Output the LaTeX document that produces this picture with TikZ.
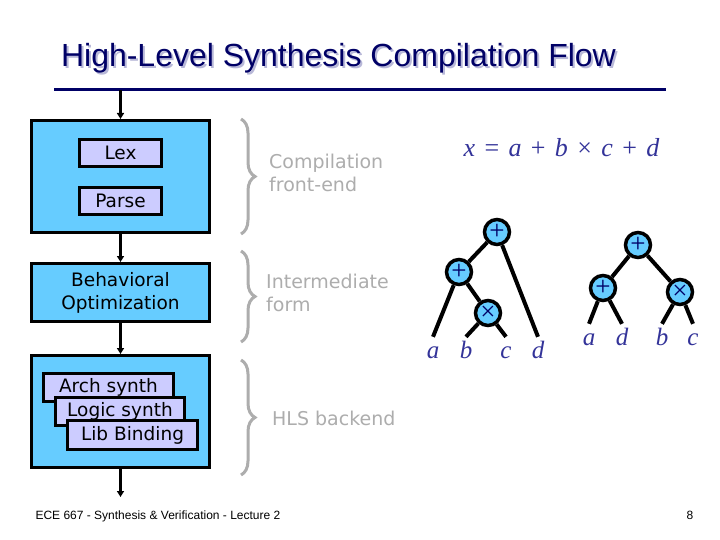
\documentclass[tikz,border=0pt]{standalone}
\usepackage{fontspec}
\setmainfont{Liberation Sans}
\newfontfamily\boxfont{DejaVu Sans}
\newfontfamily\eqfont{Liberation Serif}
\usepackage{tikz}
\usetikzlibrary{positioning,arrows.meta,decorations.pathreplacing}
\definecolor{navy}{HTML}{000066}
\definecolor{shade}{HTML}{B8B8D8}
\definecolor{stagebg}{HTML}{66CCFF}
\definecolor{passbg}{HTML}{CCCCFF}
\definecolor{notegray}{HTML}{ADADAD}
\definecolor{eqink}{HTML}{333399}
\newcommand{\gap}{\hspace{0.36em}}

\begin{document}
\begin{tikzpicture}[x=1pt,y=-1pt,
  stage/.style={draw=black,line width=3pt,fill=stagebg,minimum width=178pt,align=center,font=\boxfont\fontsize{18.5}{23}\selectfont},
  pass/.style={draw=black,line width=3pt,fill=passbg,minimum width=82pt,minimum height=27pt,inner sep=0pt,font=\boxfont\fontsize{18.5}{22}\selectfont},
  flow/.style={-{Triangle[length=6pt,width=7pt]},line width=3pt},
  brc/.style={decorate,decoration={brace,amplitude=14pt},draw=notegray,line width=3pt},
  remark/.style={inner sep=0pt,align=left,text=notegray,font=\boxfont\fontsize{19}{23}\selectfont},
  op/.style={circle,draw=black,line width=3.5pt,fill=stagebg,minimum size=25pt,inner sep=0pt,text=navy,font=\eqfont\fontsize{27}{27}\selectfont},
  leaf/.style={inner sep=0pt,minimum height=32pt,text height=11pt,text depth=0pt,text=eqink,font=\eqfont\itshape\fontsize{25}{25}\selectfont},
  edge/.style={line width=4pt}]
  \fill[white] (0,0) rectangle (720,540);
  \useasboundingbox (0,0) rectangle (720,540);
  \node[anchor=base,text=shade,font=\fontsize{32}{32}\selectfont] (titleshade) at (340.5,69) {High-Level Synthesis Compilation Flow};
  \node[anchor=base,text=navy,font=\fontsize{32}{32}\selectfont] (title) at (338.5,67) {High-Level Synthesis Compilation Flow};
  \draw[navy,line width=3pt] (54,90) -- (666,90);
  \coordinate (src) at (120.5,90);
  \node[stage,minimum height=112pt] (fe) at (120.5,176.5) {};
  \node[pass] (lex) at (120.5,153) {Lex};
  \node[pass,below=18pt of lex] (parse) {Parse};
  \node[stage,minimum height=58pt,below=28pt of fe] (opt) {Behavioral\\Optimization};
  \node[stage,minimum height=112pt,below=31pt of opt] (be) {};
  \node[pass,minimum width=130pt,minimum height=28pt] (arch) at (108.5,387.5) {Arch synth};
  \node[pass,minimum width=129pt,minimum height=28pt] (logic) at (120,411.5) {Logic synth};
  \node[pass,minimum width=130pt,minimum height=29pt] (lib) at (132.5,435) {Lib Binding};
  \coordinate[below=28pt of be] (out);
  \foreach \a/\b in {src/fe,fe/opt,opt/be,be/out} \draw[flow] (\a) -- (\b);
  \draw[brc] (241,119) -- (241,234);
  \draw[brc] (241,251) -- (241,342);
  \draw[brc] (241,360) -- (241,475);
  \node[remark,anchor=west] (fenote) at (269,172.5) {Compilation\\front-end};
  \node[remark,anchor=west] (irnote) at (266,293) {Intermediate\\form};
  \node[remark,anchor=west] (benote) at (272,418) {HLS backend};
  \node[anchor=base,text=eqink,font=\eqfont\fontsize{26}{26}\selectfont] (eq) at (561.5,157)
    {\textit{x}\gap=\gap\textit{a}\gap+\gap\textit{b}\gap×\gap\textit{c}\gap+\gap\textit{d}};
  \node[op] (r1) at (497,232) {+};
  \node[op] (p1) at (459,272) {+};
  \node[op] (m1) at (488,313) {×};
  \node[leaf] (a1) at (433,353) {a};
  \node[leaf] (b1) at (466,353) {b};
  \node[leaf] (c1) at (506,353) {c};
  \node[leaf] (d1) at (538,353) {d};
  \node[op] (r2) at (638,245) {+};
  \node[op] (p2) at (603,288) {+};
  \node[op] (m2) at (680,292) {×};
  \node[leaf] (a2) at (589,340) {a};
  \node[leaf] (d2) at (622,340) {d};
  \node[leaf] (b2) at (662,340) {b};
  \node[leaf] (c2) at (693,340) {c};
  \foreach \a/\b in {r1/p1,p1/m1,r2/p2,r2/m2} \draw[edge] (\a) -- (\b);
  \foreach \a/\b in {r1/d1,p1/a1,m1/b1,m1/c1,p2/a2,p2/d2,m2/b2,m2/c2} \draw[edge] (\a) -- (\b.north);
  \node[anchor=base west,font=\fontsize{12}{12}\selectfont] (foot) at (32,519) {ECE 667 - Synthesis \& Verification - Lecture 2};
  \node[anchor=base,font=\fontsize{12}{12}\selectfont] (page) at (690,519) {8};
\end{tikzpicture}
\end{document}
